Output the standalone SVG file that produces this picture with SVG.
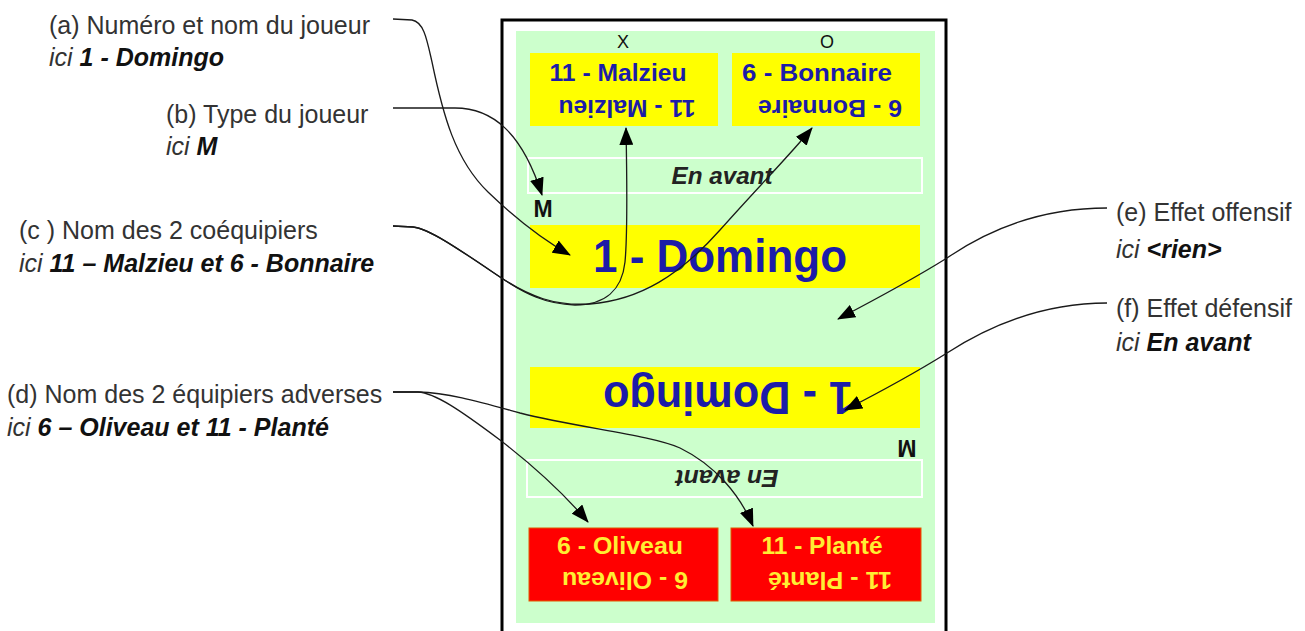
<svg xmlns="http://www.w3.org/2000/svg" width="1305" height="631" viewBox="0 0 1305 631">
<style>
.lbl{font-family:"Liberation Sans",Arial,sans-serif;font-size:25px;fill:#333}
.ici{font-style:italic}
.b{font-weight:bold;fill:#111}
.card{font-family:"Liberation Sans",Arial,sans-serif;font-weight:bold;text-anchor:middle}
.blue{fill:#1c1ca8}
.yel{fill:#ffee33}
.dark{fill:#222}
.ybox{fill:#ffff00}
.rbox{fill:#ff0000;stroke:#e05a00;stroke-width:1}
.eff{fill:none;stroke:#ffffff;stroke-width:2}
.conn path{fill:none;stroke:#1a1a1a;stroke-width:1.3;marker-end:url(#arr)}
</style>
<defs>
<marker id="arr" viewBox="0 0 18 14" refX="17" refY="7" markerWidth="18" markerHeight="14" markerUnits="userSpaceOnUse" orient="auto">
<path d="M0,0 L18,7 L0,14 z" fill="#000"/>
</marker>
</defs>
<rect width="1305" height="631" fill="#ffffff"/>

<g id="card">
<rect x="502" y="20" width="444" height="640" fill="#ffffff" stroke="#000" stroke-width="3"/>
<rect x="516" y="31" width="419" height="592" fill="#ccffcc"/>
<text class="card" x="623" y="48" style="font-weight:normal;font-size:18px" fill="#111">X</text>
<text class="card" x="827" y="48" style="font-weight:normal;font-size:18px" fill="#111">O</text>
</g>

<g id="mate-malzieu">
<rect class="ybox" x="530" y="53" width="188" height="73"/>
<text class="card blue" x="618" y="81" font-size="24" textLength="137" lengthAdjust="spacingAndGlyphs">11 - Malzieu</text>
<text class="card blue" x="627" y="100" font-size="24" textLength="137" lengthAdjust="spacingAndGlyphs" transform="rotate(180 627 100)">11 - Malzieu</text>
</g>

<g id="mate-bonnaire">
<rect class="ybox" x="732" y="53" width="188" height="73"/>
<text class="card blue" x="817" y="81" font-size="24" textLength="150" lengthAdjust="spacingAndGlyphs">6 - Bonnaire</text>
<text class="card blue" x="830" y="100" font-size="24" textLength="144" lengthAdjust="spacingAndGlyphs" transform="rotate(180 830 100)">6 - Bonnaire</text>
</g>

<g id="effect-top">
<rect class="eff" x="528" y="158" width="394" height="35"/>
<text class="card dark" x="722" y="184" font-size="23" font-style="italic" textLength="101" lengthAdjust="spacingAndGlyphs">En avant</text>
</g>

<g id="type-top">
<text class="card" x="543" y="217" font-size="23" fill="#111">M</text>
</g>

<g id="player-top">
<rect class="ybox" x="530" y="225" width="390" height="63"/>
<text class="card blue" x="720" y="272" font-size="47" textLength="254" lengthAdjust="spacingAndGlyphs">1 - Domingo</text>
</g>

<g id="player-bottom">
<rect class="ybox" x="530" y="367" width="390" height="61"/>
<text class="card blue" x="728" y="382" font-size="47" textLength="250" lengthAdjust="spacingAndGlyphs" transform="rotate(180 728 382)">1 - Domingo</text>
</g>

<g id="type-bottom">
<text class="card" x="907" y="440" font-size="23" fill="#111" transform="rotate(180 907 440)">M</text>
</g>

<g id="effect-bottom">
<rect class="eff" x="527" y="460" width="395" height="37"/>
<text class="card dark" x="727" y="470" font-size="23" font-style="italic" textLength="103" lengthAdjust="spacingAndGlyphs" transform="rotate(180 727 470)">En avant</text>
</g>

<g id="opp-oliveau">
<rect class="rbox" x="529" y="528" width="189" height="73"/>
<text class="card yel" x="620" y="554" font-size="23" textLength="126" lengthAdjust="spacingAndGlyphs">6 - Oliveau</text>
<text class="card yel" x="625" y="572" font-size="23" textLength="126" lengthAdjust="spacingAndGlyphs" transform="rotate(180 625 572)">6 - Oliveau</text>
</g>

<g id="opp-plante">
<rect class="rbox" x="731" y="528" width="190" height="73"/>
<text class="card yel" x="822" y="554" font-size="23" textLength="121" lengthAdjust="spacingAndGlyphs">11 - Planté</text>
<text class="card yel" x="830" y="572" font-size="23" textLength="124" lengthAdjust="spacingAndGlyphs" transform="rotate(180 830 572)">11 - Planté</text>
</g>

<g id="label-a">
<text class="lbl" x="49" y="34">(a) Numéro et nom du joueur</text>
<text class="lbl ici" x="49" y="66">ici <tspan class="b">1 - Domingo</tspan></text>
</g>
<g id="label-b">
<text class="lbl" x="166" y="123">(b) Type du joueur</text>
<text class="lbl ici" x="166" y="155">ici <tspan class="b">M</tspan></text>
</g>
<g id="label-c">
<text class="lbl" x="19" y="239">(c ) Nom des 2 coéquipiers</text>
<text class="lbl ici" x="19" y="272">ici <tspan class="b">11 – Malzieu et 6 - Bonnaire</tspan></text>
</g>
<g id="label-d">
<text class="lbl" x="7" y="403">(d) Nom des 2 équipiers adverses</text>
<text class="lbl ici" x="7" y="436">ici <tspan class="b">6 – Oliveau et 11 - Planté</tspan></text>
</g>
<g id="label-e">
<text class="lbl" x="1116" y="221">(e) Effet offensif</text>
<text class="lbl ici" x="1116" y="258">ici <tspan class="b">&lt;rien&gt;</tspan></text>
</g>
<g id="label-f">
<text class="lbl" x="1116" y="317">(f) Effet défensif</text>
<text class="lbl ici" x="1116" y="351">ici <tspan class="b">En avant</tspan></text>
</g>

<g id="connectors" class="conn">
<path d="M393,19 L412,20 C424,22 427,40 432,62 C443,115 455,160 488,192 C515,218 540,238 570,255"/>
<path d="M393,108 L455,108 C492,108 522,132 542,195"/>
<path d="M393,226 L413,227 C430,229 460,250 500,277 C525,294 545,304 575,305 C605,305 622,290 625,262 C628,230 627,180 626,128"/>
<path d="M393,226 L413,227 C430,229 460,250 500,277 C530,297 555,306 590,304 C640,300 680,275 720,230 C760,185 790,155 812,128"/>
<path d="M393,392 L418,392 C435,393 460,410 500,440 C535,467 565,495 588,522"/>
<path d="M393,392 L418,392 C450,393 480,402 520,413 C580,428 650,435 680,448 C715,465 740,495 753,526"/>
<path d="M1107,208 C1050,208 995,225 947,258 C915,278 880,297 838,319"/>
<path d="M1107,303 C1050,303 995,322 947,353 C915,373 880,392 845,410"/>
</g>
</svg>
